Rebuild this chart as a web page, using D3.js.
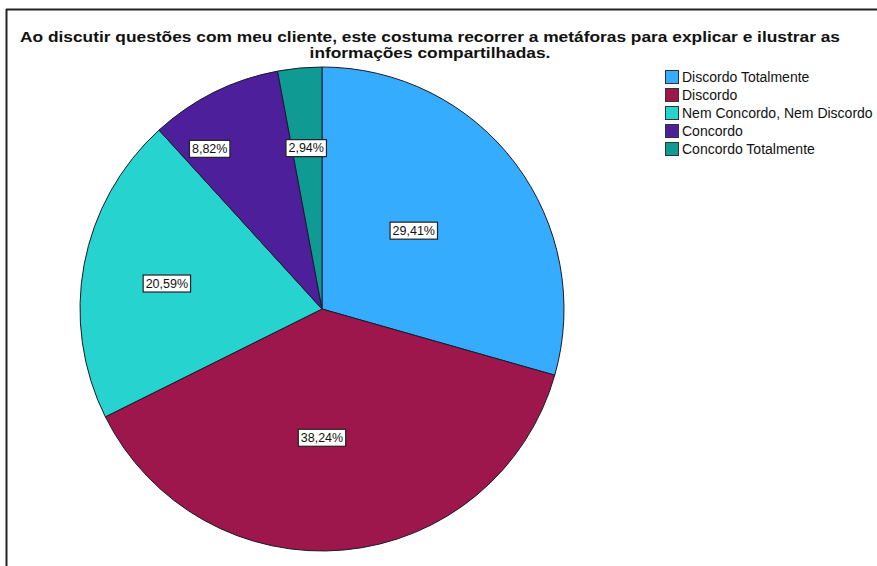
<!DOCTYPE html>
<html>
<head>
<meta charset="utf-8">
<script src="https://cdn.jsdelivr.net/npm/d3@7"></script>
<style>
  html, body { margin: 0; padding: 0; background: #fff; }
  svg { display: block; font-family: "Liberation Sans", Arial, sans-serif; }
</style>
</head>
<body>
<svg id="chart" width="877" height="566"></svg>
<script>
const titleLines = [
  "Ao discutir questões com meu cliente, este costuma recorrer a metáforas para explicar e ilustrar as",
  "informações compartilhadas."
];
const categories = ["Discordo Totalmente", "Discordo", "Nem Concordo, Nem Discordo", "Concordo", "Concordo Totalmente"];
const percents = [29.41, 38.24, 20.59, 8.82, 2.94];
const colors = ["#35acfd", "#9e174c", "#27d3cf", "#4d1f9b", "#0f9a94"];
// label placement (layout only): radius as fraction of pie radius, angular offset in degrees
const labelRadiusFrac = [0.50, 0.53, 0.65, 0.81, 0.67];
const labelAngleOffset = [-3.6, 5.3, -1.1, -8.5, -0.3];

const svg = d3.select("#chart");
const W = 877, H = 566;

// frame lines (top and left)
svg.append("line").attr("x1", 6).attr("x2", W).attr("y1", 9.5).attr("y2", 9.5)
  .attr("stroke", "#222").attr("stroke-width", 2);
svg.append("line").attr("x1", 6.5).attr("x2", 6.5).attr("y1", 9).attr("y2", H)
  .attr("stroke", "#222").attr("stroke-width", 2);

// title
const title = svg.append("g");
const t1 = title.append("text")
  .attr("x", 430).attr("y", 42)
  .attr("text-anchor", "middle")
  .attr("font-weight", "bold")
  .attr("font-size", 15.5)
  .attr("fill", "#111")
  .text(titleLines[0]);
const natural = t1.node().getComputedTextLength();
const ratio = 820 / natural;
t1.attr("textLength", 820).attr("lengthAdjust", "spacingAndGlyphs");
const t2 = title.append("text")
  .attr("x", 430).attr("y", 58)
  .attr("text-anchor", "middle")
  .attr("font-weight", "bold")
  .attr("font-size", 15.5)
  .attr("fill", "#111")
  .text(titleLines[1]);
const n2 = t2.node().getComputedTextLength();
t2.attr("textLength", n2 * ratio).attr("lengthAdjust", "spacingAndGlyphs");

// pie
const cx = 322, cy = 309, R = 242;
const pie = d3.pie().sort(null).value(d => d);
const arcs = pie(percents);
const arc = d3.arc().innerRadius(0).outerRadius(R);
const g = svg.append("g").attr("transform", `translate(${cx},${cy})`);
g.selectAll("path.slice").data(arcs).enter().append("path")
  .attr("class", "slice")
  .attr("d", arc)
  .attr("fill", (d, i) => colors[i])
  .attr("stroke", "#1a1a2a")
  .attr("stroke-width", 1);

// labels
const fmt = v => v.toFixed(2).replace(".", ",") + "%";
arcs.forEach((d, i) => {
  const a = (d.startAngle + d.endAngle) / 2 + labelAngleOffset[i] * Math.PI / 180;
  const r = R * labelRadiusFrac[i];
  const x = r * Math.sin(a), y = -r * Math.cos(a);
  const lg = g.append("g").attr("transform", `translate(${x},${y})`);
  const txt = lg.append("text")
    .attr("text-anchor", "middle").attr("dy", "0.36em")
    .attr("font-size", 12.5).attr("fill", "#111")
    .text(fmt(percents[i]));
  const bb = txt.node().getBBox();
  lg.insert("rect", "text")
    .attr("x", bb.x - 2.5).attr("y", bb.y - 1.5)
    .attr("width", bb.width + 5).attr("height", bb.height + 3)
    .attr("fill", "#fff").attr("stroke", "#222").attr("stroke-width", 1.2);
});

// legend
const legend = svg.append("g").attr("transform", "translate(665,77)");
const rowH = 18;
categories.forEach((c, i) => {
  const row = legend.append("g").attr("transform", `translate(0,${i * rowH})`);
  row.append("rect").attr("x", 0.5).attr("y", -6.5).attr("width", 13).attr("height", 13)
    .attr("fill", colors[i]).attr("stroke", "#333").attr("stroke-width", 1);
  row.append("text").attr("x", 17).attr("y", 0).attr("dy", "0.36em")
    .attr("font-size", 14).attr("fill", "#111").text(c);
});
</script>
</body>
</html>
